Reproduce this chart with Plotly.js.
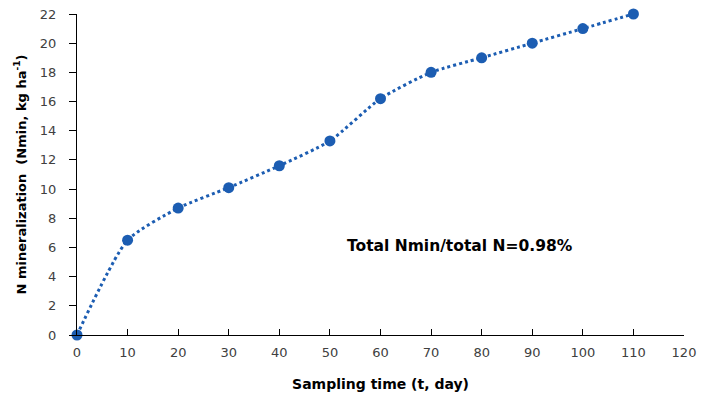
<!DOCTYPE html>
<html><head><meta charset="utf-8">
<script src="https://cdn.plot.ly/plotly-3.0.1.min.js"></script>
<style>html,body{margin:0;padding:0;background:#fff}#chart{width:702px;height:401px}</style>
</head><body><div id="chart"></div>
<script>
const days = [0, 10, 20, 30, 40, 50, 60, 70, 80, 90, 100, 110];
const nmin = [0, 6.5, 8.7, 10.1, 11.6, 13.3, 16.2, 18.0, 19.0, 20.0, 21.0, 22.0];
const xTicks = [0,10,20,30,40,50,60,70,80,90,100,110,120];
const yTicks = [0,2,4,6,8,10,12,14,16,18,20,22];
const noteText = "Total Nmin/total N=0.98%";

const color = '#1c5db2';
const fam = 'DejaVu Sans, Verdana, sans-serif';
const tickFont = {family: fam, size: 13, color: '#404040'};
const titleFont = {family: fam, size: 13, color: '#000'};

Plotly.newPlot('chart', [{
  x: days, y: nmin, type: 'scatter', mode: 'lines+markers',
  line: {color: color, width: 3, dash: 'dot', shape: 'spline', smoothing: 0.6},
  marker: {color: color, size: 11},
  cliponaxis: false, showlegend: false
}], {
  width: 702, height: 401,
  margin: {l: 77, r: 18, t: 14, b: 66},
  paper_bgcolor: '#fff', plot_bgcolor: '#fff',
  xaxis: {range: [0, 120], tickvals: xTicks, ticktext: xTicks.map(String),
    showgrid: false, zeroline: false, showline: true, linecolor: '#000', linewidth: 1,
    ticks: 'inside', ticklen: 6, tickcolor: '#000', tickfont: tickFont, ticklabelstandoff: 5,
    title: {text: '<b>Sampling time (t, day)</b>', font: {family: fam, size: 14, color: '#000'}, standoff: 20}},
  yaxis: {range: [0, 22], tickvals: yTicks, ticktext: yTicks.map(String),
    showgrid: false, zeroline: false, showline: true, linecolor: '#000', linewidth: 1,
    ticks: 'outside', ticklen: 7, tickcolor: '#000', tickfont: tickFont, ticklabelstandoff: 10,
    title: {text: '<b>N mineralization \u00a0(Nmin, kg ha<sup>-1</sup>)</b>', font: titleFont, standoff: 10}},
  annotations: [{x: 75.7, y: 6.1, xref: 'x', yref: 'y', text: '<b>' + noteText + '</b>', showarrow: false,
    font: {family: fam, size: 15.5, color: '#000'}}]
}, {staticPlot: true});
</script></body></html>
